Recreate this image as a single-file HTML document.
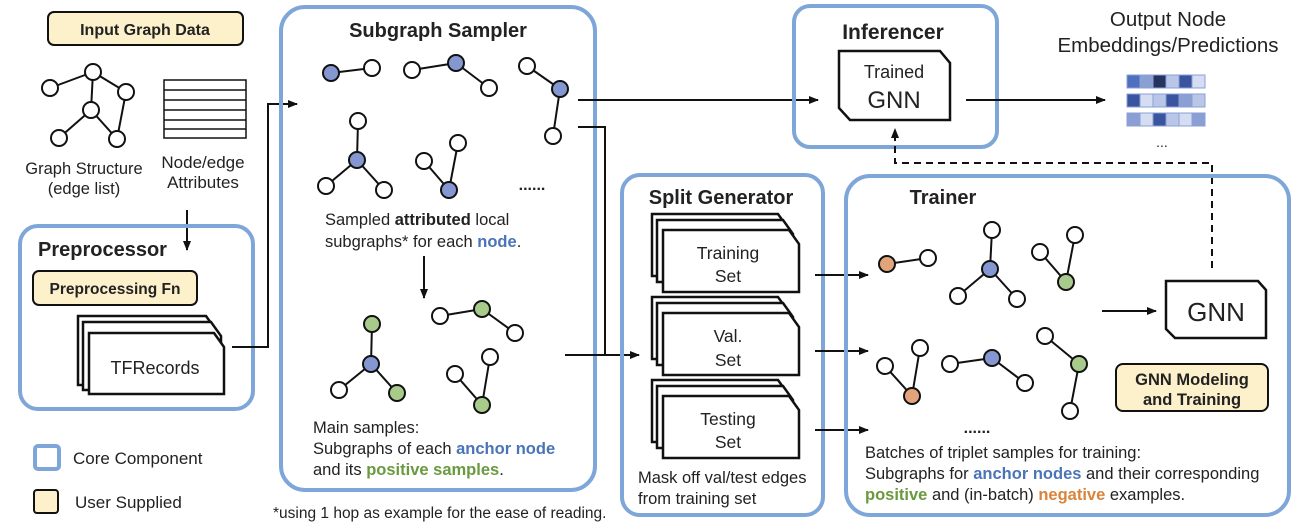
<!DOCTYPE html>
<html><head><meta charset="utf-8"><style>
body{margin:0;background:#fff}
svg{display:block}
text{font-family:"Liberation Sans",sans-serif;fill:#222}
.b{font-weight:bold}
.n{stroke:#111;stroke-width:2}
.w{fill:#fff}.bl{fill:#8497d1}.gr{fill:#a8cb8c}.or{fill:#e2a57b}
.core{fill:none;stroke:#7fa6d9;stroke-width:4}
.usr{fill:#fcf1cb;stroke:#111;stroke-width:2}
.pg{fill:#fff;stroke:#111;stroke-width:2.5}
</style></head><body>
<svg width="1310" height="528" viewBox="0 0 1310 528" xmlns="http://www.w3.org/2000/svg">
<defs><marker id="a" markerWidth="10" markerHeight="8" refX="9" refY="4" orient="auto" markerUnits="userSpaceOnUse"><path d="M0,0 L10,4 L0,8 Z" fill="#111"/></marker></defs>

<!-- Input graph data -->
<rect x="48" y="12" width="195" height="33" rx="6" class="usr"/>
<text x="145" y="35" font-size="16" text-anchor="middle" class="b">Input Graph Data</text>
<g class="n">
<line x1="50" y1="88" x2="93" y2="72"/><line x1="93" y1="72" x2="91" y2="110"/><line x1="93" y1="72" x2="126" y2="92"/><line x1="126" y1="92" x2="117" y2="139"/><line x1="91" y1="110" x2="59" y2="138"/><line x1="91" y1="110" x2="117" y2="139"/>
<circle cx="50" cy="88" r="8" class="w"/><circle cx="93" cy="72" r="8" class="w"/><circle cx="126" cy="92" r="8" class="w"/><circle cx="91" cy="110" r="8" class="w"/><circle cx="59" cy="138" r="8" class="w"/><circle cx="117" cy="139" r="8" class="w"/>
</g>
<g fill="#fff" stroke="#111" stroke-width="1.5"><rect x="164" y="80" width="82" height="58"/><line x1="164" y1="90" x2="246" y2="90"/><line x1="164" y1="100" x2="246" y2="100"/><line x1="164" y1="110" x2="246" y2="110"/><line x1="164" y1="120" x2="246" y2="120"/><line x1="164" y1="129" x2="246" y2="129"/></g>
<text x="84" y="174" font-size="16.5" text-anchor="middle">Graph Structure</text>
<text x="84" y="194" font-size="16.5" text-anchor="middle">(edge list)</text>
<text x="203" y="168" font-size="17" text-anchor="middle">Node/edge</text>
<text x="203" y="188" font-size="17" text-anchor="middle">Attributes</text>
<line x1="187" y1="210" x2="187" y2="250" stroke="#111" stroke-width="2" marker-end="url(#a)"/>

<!-- Preprocessor -->
<rect x="20" y="226" width="233" height="183" rx="18" class="core"/>
<text x="38" y="256" font-size="20" class="b">Preprocessor</text>
<rect x="33" y="271" width="164" height="34" rx="6" class="usr"/>
<text x="115" y="294" font-size="15.5" text-anchor="middle" class="b">Preprocessing Fn</text>
<path d="M78 316 H206 L216 330 V385 H78 Z" class="pg"/>
<path d="M83 322 H211 L221 336 V390 H83 Z" class="pg"/>
<path d="M89 333 H214 L224 347 V394 H89 Z" class="pg"/>
<text x="155" y="374" font-size="18" text-anchor="middle">TFRecords</text>
<path d="M232 347 H268 V104 H297" fill="none" stroke="#111" stroke-width="2" marker-end="url(#a)"/>

<!-- Legend -->
<rect x="35" y="446" width="24" height="23" rx="3" fill="#fff" stroke="#7fa6d9" stroke-width="4"/>
<text x="73" y="464" font-size="17">Core Component</text>
<rect x="34" y="490" width="24" height="23" rx="3" class="usr" stroke-width="3"/>
<text x="75" y="508" font-size="17">User Supplied</text>

<!-- Subgraph Sampler -->
<rect x="281" y="7" width="314" height="483" rx="24" class="core"/>
<text x="438" y="37" font-size="20" text-anchor="middle" class="b">Subgraph Sampler</text>
<g class="n">
<line x1="331" y1="73" x2="372" y2="68"/><circle cx="331" cy="73" r="8" class="bl"/><circle cx="372" cy="68" r="8" class="w"/>
<line x1="412" y1="70" x2="456" y2="63"/><line x1="456" y1="63" x2="489" y2="88"/><circle cx="412" cy="70" r="8" class="w"/><circle cx="456" cy="63" r="8" class="bl"/><circle cx="489" cy="88" r="8" class="w"/>
<line x1="527" y1="66" x2="560" y2="89"/><line x1="560" y1="89" x2="553" y2="136"/><circle cx="527" cy="66" r="8" class="w"/><circle cx="560" cy="89" r="8" class="bl"/><circle cx="553" cy="136" r="8" class="w"/>
<line x1="358" y1="121" x2="357" y2="160"/><line x1="357" y1="160" x2="326" y2="186"/><line x1="357" y1="160" x2="384" y2="190"/><circle cx="358" cy="121" r="8" class="w"/><circle cx="357" cy="160" r="8" class="bl"/><circle cx="326" cy="186" r="8" class="w"/><circle cx="384" cy="190" r="8" class="w"/>
<line x1="424" y1="161" x2="449" y2="190"/><line x1="458" y1="143" x2="449" y2="190"/><circle cx="424" cy="161" r="8" class="w"/><circle cx="458" cy="143" r="8" class="w"/><circle cx="449" cy="190" r="8" class="bl"/>
<line x1="372" y1="324" x2="371" y2="364"/><line x1="371" y1="364" x2="339" y2="390"/><line x1="371" y1="364" x2="397" y2="393"/><circle cx="372" cy="324" r="8" class="gr"/><circle cx="371" cy="364" r="8" class="bl"/><circle cx="339" cy="390" r="8" class="w"/><circle cx="397" cy="393" r="8" class="gr"/>
<line x1="440" y1="316" x2="482" y2="309"/><line x1="482" y1="309" x2="515" y2="333"/><circle cx="440" cy="316" r="8" class="w"/><circle cx="482" cy="309" r="8" class="gr"/><circle cx="515" cy="333" r="8" class="w"/>
<line x1="455" y1="374" x2="482" y2="405"/><line x1="490" y1="357" x2="482" y2="405"/><circle cx="455" cy="374" r="8" class="w"/><circle cx="490" cy="357" r="8" class="w"/><circle cx="482" cy="405" r="8" class="gr"/>
</g>
<text x="532" y="190" font-size="16" text-anchor="middle" class="b">......</text>
<text x="325" y="225" font-size="16.5">Sampled <tspan class="b">attributed</tspan> local</text>
<text x="325" y="247" font-size="16.5">subgraphs* for each <tspan class="b" fill="#4a74b8">node</tspan>.</text>
<line x1="424" y1="256" x2="424" y2="298" stroke="#111" stroke-width="2" marker-end="url(#a)"/>
<text x="313" y="433" font-size="16.5">Main samples:</text>
<text x="313" y="454" font-size="16.5">Subgraphs of each <tspan class="b" fill="#4a74b8">anchor node</tspan></text>
<text x="313" y="475" font-size="16.5">and its <tspan class="b" fill="#6a9a3f">positive samples</tspan>.</text>
<text x="273" y="518" font-size="15.5">*using 1 hop as example for the ease of reading.</text>

<path d="M578 100 H818" fill="none" stroke="#111" stroke-width="2" marker-end="url(#a)"/>
<path d="M578 127 H605 V355" fill="none" stroke="#111" stroke-width="2"/>
<path d="M565 355 H639" fill="none" stroke="#111" stroke-width="2" marker-end="url(#a)"/>

<!-- Inferencer -->
<rect x="794" y="6" width="203" height="141" rx="16" class="core"/>
<text x="893" y="39" font-size="21" text-anchor="middle" class="b">Inferencer</text>
<path d="M839 51 H940 L950 63 V120 H850 L839 108 Z" fill="#fff" stroke="#111" stroke-width="2.5"/>
<text x="894" y="78" font-size="18" text-anchor="middle">Trained</text>
<text x="894" y="108" font-size="24" text-anchor="middle">GNN</text>
<line x1="966" y1="100" x2="1105" y2="100" stroke="#111" stroke-width="2" marker-end="url(#a)"/>
<text x="1168" y="26" font-size="20.5" text-anchor="middle">Output Node</text>
<text x="1168" y="52" font-size="20.5" text-anchor="middle">Embeddings/Predictions</text>
<g stroke="#8aa0d4" stroke-width="1">
<rect x="1127" y="75" width="13" height="13" fill="#4f6fc0"/><rect x="1140" y="75" width="13" height="13" fill="#8aa0d4"/><rect x="1153" y="75" width="13" height="13" fill="#25335e"/><rect x="1166" y="75" width="13" height="13" fill="#b9c6e8"/><rect x="1179" y="75" width="13" height="13" fill="#3a55a0"/><rect x="1192" y="75" width="13" height="13" fill="#d5ddf2"/>
<rect x="1127" y="94" width="13" height="13" fill="#3a55a0"/><rect x="1140" y="94" width="13" height="13" fill="#d5ddf2"/><rect x="1153" y="94" width="13" height="13" fill="#b9c6e8"/><rect x="1166" y="94" width="13" height="13" fill="#3a55a0"/><rect x="1179" y="94" width="13" height="13" fill="#8aa0d4"/><rect x="1192" y="94" width="13" height="13" fill="#b9c6e8"/>
<rect x="1127" y="113" width="13" height="13" fill="#8aa0d4"/><rect x="1140" y="113" width="13" height="13" fill="#d5ddf2"/><rect x="1153" y="113" width="13" height="13" fill="#3a55a0"/><rect x="1166" y="113" width="13" height="13" fill="#b9c6e8"/><rect x="1179" y="113" width="13" height="13" fill="#d5ddf2"/><rect x="1192" y="113" width="13" height="13" fill="#8aa0d4"/>
</g>
<text x="1162" y="147" font-size="14" text-anchor="middle">...</text>
<path d="M1212 268 V163 H895 V129" fill="none" stroke="#111" stroke-width="2" stroke-dasharray="7,5" marker-end="url(#a)"/>

<!-- Split Generator -->
<rect x="622" y="175" width="201" height="340" rx="18" class="core"/>
<text x="721" y="204" font-size="20" text-anchor="middle" class="b">Split Generator</text>
<g>
<path d="M652 214 H778 L788 228 V276 H652 Z" class="pg"/><path d="M657 220 H783 L793 234 V282 H657 Z" class="pg"/><path d="M663 230 H789 L799 244 V292 H663 Z" class="pg"/>
<path d="M652 297 H778 L788 311 V359 H652 Z" class="pg"/><path d="M657 303 H783 L793 317 V365 H657 Z" class="pg"/><path d="M663 313 H789 L799 327 V375 H663 Z" class="pg"/>
<path d="M652 380 H778 L788 394 V442 H652 Z" class="pg"/><path d="M657 386 H783 L793 400 V448 H657 Z" class="pg"/><path d="M663 396 H789 L799 410 V458 H663 Z" class="pg"/>
</g>
<text x="728" y="259" font-size="17.5" text-anchor="middle">Training</text><text x="728" y="282" font-size="17.5" text-anchor="middle">Set</text>
<text x="728" y="342" font-size="17.5" text-anchor="middle">Val.</text><text x="728" y="366" font-size="17.5" text-anchor="middle">Set</text>
<text x="728" y="425" font-size="17.5" text-anchor="middle">Testing</text><text x="728" y="448" font-size="17.5" text-anchor="middle">Set</text>
<text x="638" y="483" font-size="16.5">Mask off val/test edges</text>
<text x="638" y="504" font-size="16.5">from training set</text>
<line x1="815" y1="275" x2="868" y2="275" stroke="#111" stroke-width="2" marker-end="url(#a)"/>
<line x1="815" y1="351" x2="868" y2="351" stroke="#111" stroke-width="2" marker-end="url(#a)"/>
<line x1="815" y1="430" x2="868" y2="430" stroke="#111" stroke-width="2" marker-end="url(#a)"/>

<!-- Trainer -->
<rect x="846" y="176" width="443" height="339" rx="24" class="core"/>
<text x="943" y="204" font-size="20" text-anchor="middle" class="b">Trainer</text>
<g class="n">
<line x1="887" y1="264" x2="928" y2="258"/><circle cx="887" cy="264" r="8" class="or"/><circle cx="928" cy="258" r="8" class="w"/>
<line x1="992" y1="230" x2="990" y2="269"/><line x1="990" y1="269" x2="958" y2="296"/><line x1="990" y1="269" x2="1017" y2="299"/><circle cx="992" cy="230" r="8" class="w"/><circle cx="990" cy="269" r="8" class="bl"/><circle cx="958" cy="296" r="8" class="w"/><circle cx="1017" cy="299" r="8" class="w"/>
<line x1="1040" y1="252" x2="1066" y2="282"/><line x1="1075" y1="235" x2="1066" y2="282"/><circle cx="1040" cy="252" r="8" class="w"/><circle cx="1075" cy="235" r="8" class="w"/><circle cx="1066" cy="282" r="8" class="gr"/>
<line x1="885" y1="366" x2="912" y2="396"/><line x1="920" y1="348" x2="912" y2="396"/><circle cx="885" cy="366" r="8" class="w"/><circle cx="920" cy="348" r="8" class="w"/><circle cx="912" cy="396" r="8" class="or"/>
<line x1="950" y1="364" x2="992" y2="358"/><line x1="992" y1="358" x2="1025" y2="383"/><circle cx="950" cy="364" r="8" class="w"/><circle cx="992" cy="358" r="8" class="bl"/><circle cx="1025" cy="383" r="8" class="w"/>
<line x1="1045" y1="336" x2="1079" y2="364"/><line x1="1079" y1="364" x2="1070" y2="411"/><circle cx="1045" cy="336" r="8" class="w"/><circle cx="1079" cy="364" r="8" class="gr"/><circle cx="1070" cy="411" r="8" class="w"/>
</g>
<text x="977" y="433" font-size="16" text-anchor="middle" class="b">......</text>
<line x1="1102" y1="311" x2="1156" y2="311" stroke="#111" stroke-width="2" marker-end="url(#a)"/>
<path d="M1166 281 H1258 L1266 290 V338 H1175 L1166 329 Z" fill="#fff" stroke="#111" stroke-width="2.5"/>
<text x="1216" y="321" font-size="26" text-anchor="middle">GNN</text>
<rect x="1116" y="364" width="152" height="47" rx="7" class="usr"/>
<text x="1192" y="385" font-size="16.5" text-anchor="middle" class="b">GNN Modeling</text>
<text x="1192" y="405" font-size="16.5" text-anchor="middle" class="b">and Training</text>
<text x="865" y="458" font-size="16.5">Batches of triplet samples for training:</text>
<text x="865" y="479" font-size="16.5">Subgraphs for <tspan class="b" fill="#4a74b8">anchor nodes</tspan> and their corresponding</text>
<text x="865" y="500" font-size="16.5"><tspan class="b" fill="#6a9a3f">positive</tspan> and (in-batch) <tspan class="b" fill="#d9843a">negative</tspan> examples.</text>
</svg>
</body></html>
